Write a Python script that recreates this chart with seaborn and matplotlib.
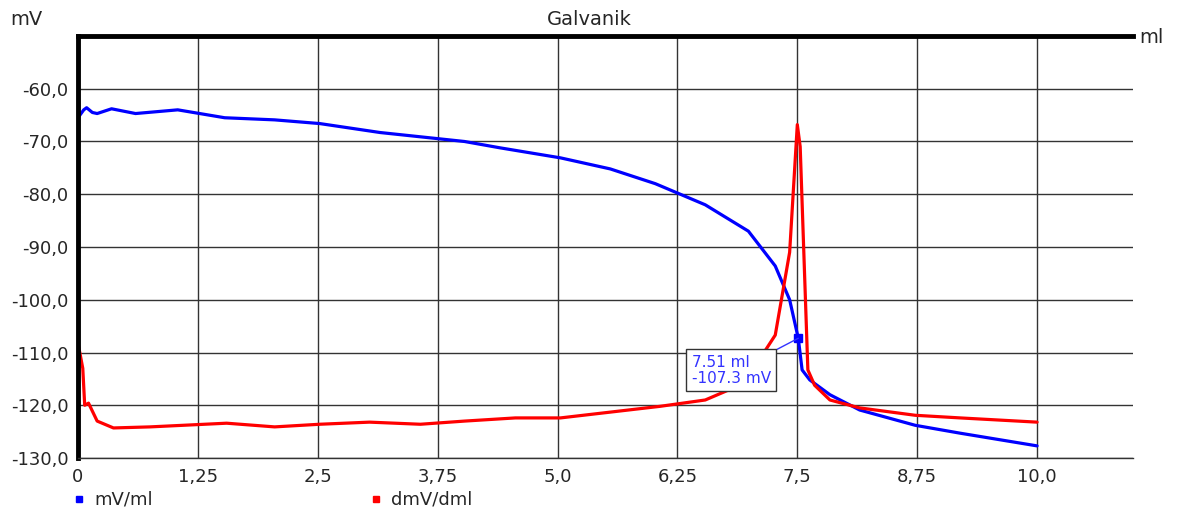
import matplotlib
matplotlib.use("Agg")
import matplotlib.pyplot as plt
import seaborn as sns
from matplotlib.lines import Line2D

# mV/ml curve
ml_blue = [0.0, 0.06, 0.09, 0.15, 0.2, 0.35, 0.6, 1.04, 1.53, 2.05, 2.52, 3.15, 4.03, 4.4,
           5.03, 5.55, 6.02, 6.54, 6.99, 7.27, 7.42, 7.51, 7.55, 7.63, 7.84, 8.15, 8.73, 9.2, 10.0]
mv_blue = [-65.5, -64.0, -63.6, -64.5, -64.7, -63.8, -64.7, -64.0, -65.5, -65.9, -66.6, -68.3,
           -70.0, -71.2, -73.1, -75.2, -78.0, -82.0, -87.0, -93.6, -100.0, -107.3, -113.3,
           -115.2, -118.0, -120.9, -123.8, -125.3, -127.7]

# dmV/dml curve (drawn on the same scale)
ml_red = [0.0, 0.05, 0.07, 0.11, 0.2, 0.37, 0.75, 1.55, 2.05, 2.52, 3.04, 3.57, 4.03, 4.56,
          5.03, 5.55, 6.07, 6.54, 6.9, 7.17, 7.27, 7.42, 7.5, 7.53, 7.61, 7.68, 7.84, 8.15,
          8.73, 9.2, 10.0]
mv_red = [-108.2, -113.0, -120.0, -119.6, -123.0, -124.3, -124.1, -123.4, -124.1, -123.6,
          -123.2, -123.6, -123.0, -122.4, -122.4, -121.3, -120.2, -119.0, -116.2, -109.5,
          -106.7, -91.0, -66.8, -71.0, -113.3, -116.2, -119.0, -120.5, -121.9, -122.4, -123.2]

x_ticks = [0, 1.25, 2.5, 3.75, 5.0, 6.25, 7.5, 8.75, 10.0]
x_labels = ["0", "1,25", "2,5", "3,75", "5,0", "6,25", "7,5", "8,75", "10,0"]
y_ticks = [-130, -120, -110, -100, -90, -80, -70, -60]
y_labels = ["-130,0", "-120,0", "-110,0", "-100,0", "-90,0", "-80,0", "-70,0", "-60,0"]

marker_x, marker_y = 7.51, -107.3

sns.set_style("white")
plt.rcParams["font.family"] = ["DejaVu Sans"]

fig = plt.figure(figsize=(11.78, 5.2), dpi=100)
ax = fig.add_axes([0.0662, 0.1192, 0.8956, 0.8116])

sns.lineplot(x=ml_blue, y=mv_blue, color="#0000ff", lw=2.3, ax=ax)
sns.lineplot(x=ml_red, y=mv_red, color="#ff0000", lw=2.3, ax=ax)
ax.plot([marker_x], [marker_y], marker="s", color="#0000ff", ms=6)

ax.set_xlim(0, 11)
ax.set_ylim(-130, -50)
ax.set_xticks(x_ticks)
ax.set_xticklabels(x_labels, fontsize=13)
ax.set_yticks(y_ticks)
ax.set_yticklabels(y_labels, fontsize=13)
ax.tick_params(axis="both", length=5, width=1, color="#333333", pad=2, direction="out")
ax.grid(True, color="#333333", lw=1)
ax.set_axisbelow(True)

ax.spines["left"].set_linewidth(3.5)
ax.spines["left"].set_color("black")
ax.spines["top"].set_linewidth(3.5)
ax.spines["top"].set_color("black")
ax.spines["bottom"].set_linewidth(1)
ax.spines["bottom"].set_color("#333333")
ax.spines["right"].set_visible(False)

ax.annotate("7.51 ml\n-107.3 mV", xy=(marker_x, marker_y), xytext=(6.40, -110.4),
            ha="left", va="top", fontsize=11, color="#3333ff", linespacing=1.1,
            bbox=dict(boxstyle="square,pad=0.35", fc="white", ec="#333333", lw=1),
            arrowprops=dict(arrowstyle="-", color="#3333ff", lw=1, relpos=(0.95, 1.0),
                            shrinkA=0, shrinkB=0))

fig.text(0.5, 0.962, "Galvanik", ha="center", va="center", fontsize=14)
fig.text(0.009, 0.962, "mV", ha="left", va="center", fontsize=14)
fig.text(0.967, 0.928, "ml", ha="left", va="center", fontsize=14)

handles = [Line2D([], [], ls="none", marker="s", ms=5, color="#0000ff"),
           Line2D([], [], ls="none", marker="s", ms=5, color="#ff0000")]
fig.legend(handles, ["mV/ml", "dmV/dml"], loc="lower left", bbox_to_anchor=(0.046, -0.01),
           ncol=2, frameon=False, fontsize=13, handletextpad=0.3, columnspacing=11.9,
           handlelength=1.0)

fig.savefig("out.png", dpi=100)
